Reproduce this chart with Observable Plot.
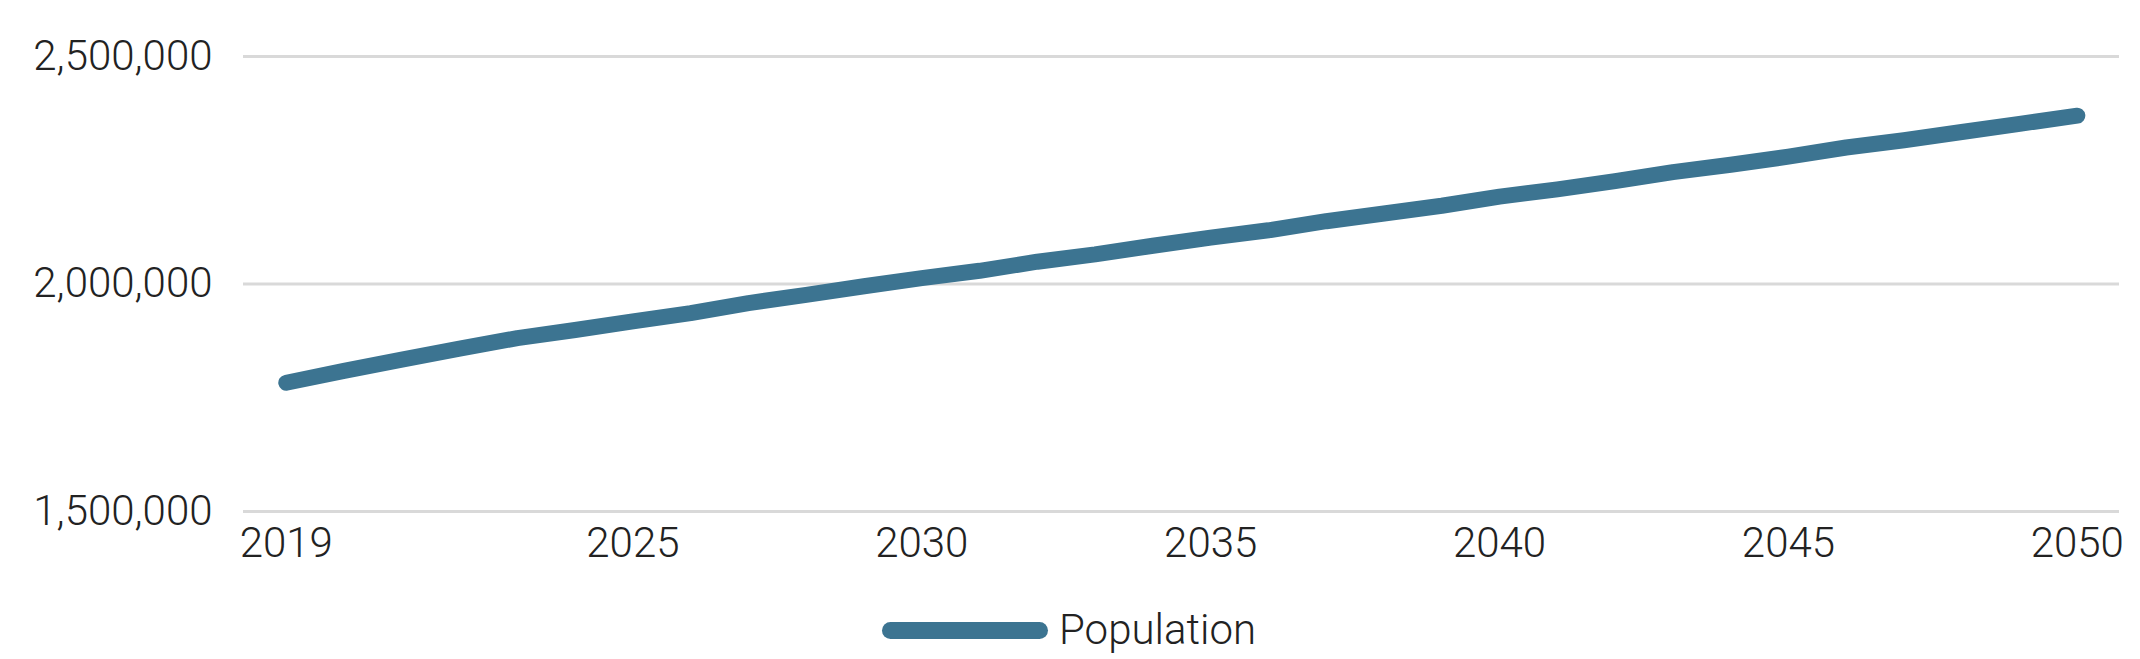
<!DOCTYPE html>
<html>
<head>
<meta charset="utf-8">
<script src="https://cdn.jsdelivr.net/npm/d3@7"></script>
<script src="https://cdn.jsdelivr.net/npm/@observablehq/plot@0.6"></script>
<style>
  body { margin: 0; background: #fff; }
  #wrap { position: relative; width: 2140px; height: 659px; font-family: Roboto, "Liberation Sans", Arial, sans-serif; font-weight: 300; color: #222; }
  #chart { position: absolute; left: 0; top: 0; }
  #chart text { font-weight: 300; }
  #swatch { position: absolute; left: 882px; top: 622px; width: 166px; height: 17px; border-radius: 8.5px; background: #3c7491; }
  #legtext { position: absolute; left: 1059px; top: 609px; font-size: 42px; line-height: 42px; white-space: nowrap; }
</style>
</head>
<body>
<div id="wrap">
  <div id="chart"></div>
  <div id="swatch"></div>
  <div id="legtext"></div>
</div>
<script>
const years = [2019, 2020, 2021, 2022, 2023, 2024, 2025, 2026, 2027, 2028, 2029,
  2030, 2031, 2032, 2033, 2034, 2035, 2036, 2037, 2038, 2039, 2040,
  2041, 2042, 2043, 2044, 2045, 2046, 2047, 2048, 2049, 2050];
const population = [1783000, 1809000, 1834000, 1858000, 1881000, 1899000, 1918000, 1936000, 1958000, 1976000, 1995000,
  2013000, 2029000, 2049000, 2065000, 2084000, 2102000, 2118000, 2138000, 2155000, 2172000, 2192000,
  2208000, 2226000, 2246000, 2262000, 2280000, 2300000, 2316000, 2334000, 2352000, 2370000];
const xTicks = [2019, 2025, 2030, 2035, 2040, 2045, 2050];
const yTicks = [1500000, 2000000, 2500000];
const seriesName = "Population";
const lineColor = "#3c7491";

const data = years.map((year, i) => ({year, population: population[i]}));

const chart = Plot.plot({
  width: 2140,
  height: 570,
  marginTop: 56,
  marginBottom: 59,
  marginLeft: 243,
  marginRight: 21,
  style: {fontFamily: 'Roboto, "Liberation Sans", Arial, sans-serif', fontSize: "42px", fontWeight: 300, color: "#222", background: "white", overflow: "visible"},
  x: {domain: [2018.26, 2050.73], ticks: xTicks, tickFormat: d => String(d), tickSize: 0, tickPadding: 16, label: null},
  y: {domain: [1500000, 2500000], ticks: yTicks, tickFormat: d3.format(","), tickSize: 0, tickPadding: 31, label: null},
  marks: [
    Plot.ruleY(yTicks, {stroke: "#d9d9d9", strokeWidth: 3}),
    Plot.line(data, {x: "year", y: "population", stroke: lineColor, strokeWidth: 16, strokeLinecap: "round", strokeLinejoin: "round"})
  ]
});
document.getElementById("chart").appendChild(chart);
document.getElementById("legtext").textContent = seriesName;
document.getElementById("swatch").style.background = lineColor;
</script>
</body>
</html>
